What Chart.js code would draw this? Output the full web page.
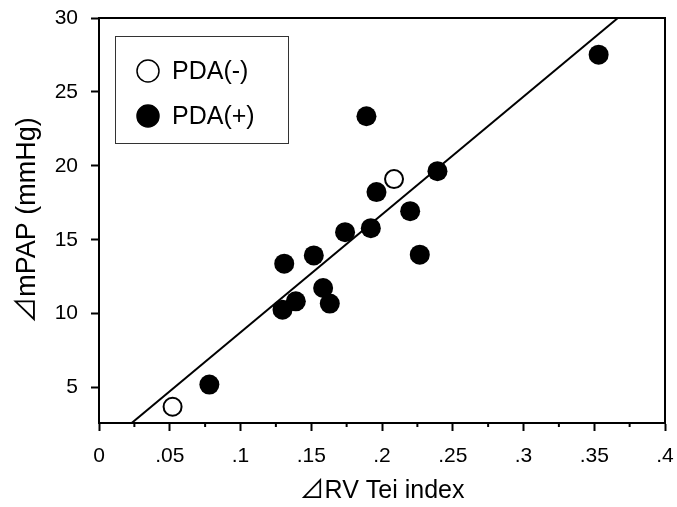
<!DOCTYPE html>
<html>
<head>
<meta charset="utf-8">
<script src="https://cdn.jsdelivr.net/npm/chart.js@4/dist/chart.umd.min.js"></script>
<style>
  html, body { margin: 0; padding: 0; background: #fff; }
  #wrap { width: 677px; height: 507px; }
</style>
</head>
<body>
<div id="wrap"><canvas id="tei"></canvas></div>
<script>
// PDA(-) open circles
const negX = [0.052, 0.2085]
const negY = [3.7, 19.1]
// PDA(+) filled circles
const posX = [0.078, 0.1297, 0.1309, 0.1391, 0.1518, 0.1584, 0.1631, 0.1739, 0.189, 0.1921, 0.1961, 0.2199, 0.2267, 0.2392, 0.3531]
const posY = [5.2, 10.27, 13.38, 10.83, 13.94, 11.73, 10.68, 15.51, 23.35, 15.78, 18.22, 16.93, 13.99, 19.64, 27.52]
// regression line end points
const fitX = [0.0231, 0.3667]
const fitY = [2.6, 30]

const xTicks = [0, 0.05, 0.1, 0.15, 0.2, 0.25, 0.3, 0.35, 0.4]
const xTickLabels = ['0', '.05', '.1', '.15', '.2', '.25', '.3', '.35', '.4']
const xMinorTicks = [0.025, 0.075, 0.125, 0.175, 0.225, 0.275, 0.325, 0.375]
const yTicks = [5, 10, 15, 20, 25, 30]

const pts = (xs, ys) => xs.map((x, i) => ({x: x, y: ys[i]}))

const fam = "'Liberation Sans', Arial, 'Noto Sans CJK JP', sans-serif"
const tickFont = {family: fam, size: 21}

// frame round the plot, minor x ticks and the legend box
const extras = {
  id: 'extras',
  afterDraw(chart) {
    const c = chart.ctx
    const a = chart.chartArea
    const xs = chart.scales.x
    c.save()
    c.strokeStyle = '#000'
    c.lineWidth = 2
    c.beginPath()
    c.moveTo(a.left, a.top)
    c.lineTo(a.right, a.top)
    c.lineTo(a.right, a.bottom)
    c.stroke()
    xMinorTicks.forEach(v => {
      const px = xs.getPixelForValue(v)
      c.beginPath()
      c.moveTo(px, a.bottom)
      c.lineTo(px, a.bottom + 4)
      c.stroke()
    })
    // legend
    const lx = a.left + 16, ly = a.top + 18, lw = 173, lh = 107
    c.lineWidth = 1
    c.strokeStyle = '#333'
    c.strokeRect(lx + 0.5, ly + 0.5, lw, lh)
    const items = chart.data.datasets.slice(0, 2)
    items.forEach((ds, i) => {
      const cy = ly + 35 + i * 45
      const cx = lx + 33
      c.beginPath()
      c.arc(cx, cy, 11, 0, Math.PI * 2)
      c.fillStyle = ds.pointBackgroundColor
      c.fill()
      c.lineWidth = 1.5
      c.strokeStyle = '#000'
      c.stroke()
      c.fillStyle = '#000'
      c.font = '25px ' + fam
      c.textBaseline = 'middle'
      c.fillText(ds.label, lx + 57, cy + 1)
    })
    c.restore()
  }
}

new Chart(document.getElementById('tei'), {
  type: 'scatter',
  data: {
    datasets: [
      {
        label: 'PDA(-)',
        data: pts(negX, negY),
        pointRadius: 9,
        pointBackgroundColor: '#fff',
        pointBorderColor: '#000',
        pointBorderWidth: 2
      },
      {
        label: 'PDA(+)',
        data: pts(posX, posY),
        pointRadius: 10,
        pointBackgroundColor: '#000',
        pointBorderColor: '#000',
        pointBorderWidth: 0
      },
      {
        label: 'fit',
        data: pts(fitX, fitY),
        showLine: true,
        borderColor: '#000',
        borderWidth: 2,
        pointRadius: 0
      }
    ]
  },
  options: {
    responsive: true,
    maintainAspectRatio: false,
    animation: false,
    layout: {padding: {top: 18, right: 12, bottom: 0, left: 0}},
    plugins: {
      legend: {display: false},
      tooltip: {enabled: false}
    },
    scales: {
      x: {
        type: 'linear',
        min: 0,
        max: 0.4,
        afterBuildTicks: s => { s.ticks = xTicks.map(v => ({value: v})) },
        afterFit: s => { s.height = 84; s.paddingLeft = 0; s.paddingRight = 0 },
        grid: {display: true, drawOnChartArea: false, drawTicks: true, tickLength: 8, tickWidth: 2, tickColor: '#000'},
        border: {display: true, color: '#000', width: 2},
        ticks: {
          color: '#000',
          font: tickFont,
          padding: 13,
          maxRotation: 0,
          autoSkip: false,
          callback: (v, i) => xTickLabels[i]
        },
        title: {
          display: true,
          text: '⊿RV Tei index',
          color: '#000',
          font: {family: fam, size: 25},
          padding: {top: 0, bottom: 1}
        }
      },
      y: {
        type: 'linear',
        min: 2.6,
        max: 30,
        afterBuildTicks: s => { s.ticks = yTicks.map(v => ({value: v})) },
        afterFit: s => { s.width = 99; s.paddingTop = 0; s.paddingBottom = 0 },
        grid: {display: true, drawOnChartArea: false, drawTicks: true, tickLength: 8, tickWidth: 2, tickColor: '#000'},
        border: {display: true, color: '#000', width: 2},
        ticks: {
          color: '#000',
          font: tickFont,
          padding: 13,
          autoSkip: false
        },
        title: {
          display: true,
          text: '⊿mPAP (mmHg)',
          color: '#000',
          font: {family: fam, size: 27},
          padding: {top: 11, bottom: 0}
        }
      }
    }
  },
  plugins: [extras]
})
</script>
</body>
</html>
